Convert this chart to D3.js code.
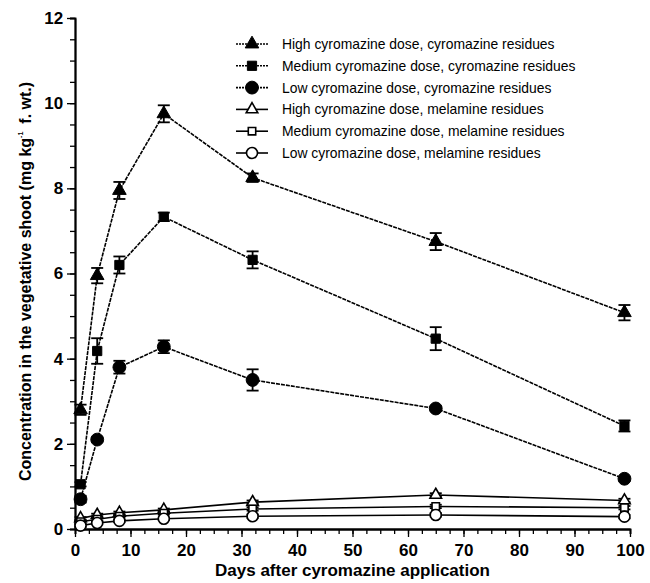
<!DOCTYPE html>
<html>
<head>
<meta charset="utf-8">
<script src="https://cdn.jsdelivr.net/npm/d3@7"></script>
<style>
  body { margin: 0; background: #fff; }
  svg { display: block; font-family: "Liberation Sans", Arial, sans-serif; }
</style>
</head>
<body>
<svg id="chart" width="650" height="583"></svg>
<script>
// ----------------------------
// Data
// ----------------------------
const days = [1, 4, 8, 16, 32, 65, 99];

const highCyro = [2.8, 5.95, 7.95, 9.75, 8.25, 6.75, 5.08];
const highCyroErr = [0.12, 0.18, 0.2, 0.2, 0.1, 0.2, 0.18];
const medCyro = [1.05, 4.18, 6.2, 7.33, 6.32, 4.47, 2.42];
const medCyroErr = [0.05, 0.3, 0.2, 0.1, 0.2, 0.27, 0.13];
const lowCyro = [0.7, 2.1, 3.8, 4.28, 3.5, 2.83, 1.18];
const lowCyroErr = [0.08, 0.05, 0.15, 0.15, 0.25, 0.05, 0.05];

const highMel = [0.25, 0.33, 0.38, 0.45, 0.63, 0.8, 0.67];
const medMel = [0.17, 0.23, 0.3, 0.37, 0.47, 0.53, 0.5];
const lowMel = [0.08, 0.14, 0.19, 0.24, 0.3, 0.33, 0.29];
const melErr = [0.03, 0.03, 0.03, 0.03, 0.04, 0.04, 0.04];

const seriesNames = [
  "High cyromazine dose, cyromazine residues",
  "Medium cyromazine dose, cyromazine residues",
  "Low cyromazine dose, cyromazine residues",
  "High cyromazine dose, melamine residues",
  "Medium cyromazine dose, melamine residues",
  "Low cyromazine dose, melamine residues"
];

const series = [
  { name: seriesNames[0], vals: highCyro, err: highCyroErr, shape: "triangle", filled: true, dotted: true },
  { name: seriesNames[1], vals: medCyro, err: medCyroErr, shape: "square", filled: true, dotted: true },
  { name: seriesNames[2], vals: lowCyro, err: lowCyroErr, shape: "circle", filled: true, dotted: true },
  { name: seriesNames[3], vals: highMel, err: melErr, shape: "triangle", filled: false, dotted: false },
  { name: seriesNames[4], vals: medMel, err: melErr, shape: "square", filled: false, dotted: false },
  { name: seriesNames[5], vals: lowMel, err: melErr, shape: "circle", filled: false, dotted: false }
];

const xTicks = [0, 10, 20, 30, 40, 50, 60, 70, 80, 90, 100];
const yTicks = [0, 2, 4, 6, 8, 10, 12];

// ----------------------------
// Layout
// ----------------------------
const svg = d3.select("#chart");
const margin = { left: 75, right: 20, top: 18, bottom: 54 };
const W = 650, H = 583;

const x = d3.scaleLinear().domain([0, 100]).range([margin.left, W - margin.right]);
const y = d3.scaleLinear().domain([0, 12]).range([H - margin.bottom, margin.top]);

// ----------------------------
// Axes
// ----------------------------
const xAxis = svg.append("g")
  .attr("transform", `translate(0,${y(0)})`)
  .call(d3.axisBottom(x).tickValues(xTicks).tickSize(8).tickSizeOuter(0));
xAxis.append("g")
  .call(d3.axisBottom(x).tickValues(d3.range(0, 100.1, 2.5)).tickSize(5).tickFormat(""));

const yAxis = svg.append("g")
  .attr("transform", `translate(${x(0)},0)`)
  .call(d3.axisLeft(y).tickValues(yTicks).tickSize(8).tickSizeOuter(0));
yAxis.append("g")
  .call(d3.axisLeft(y).tickValues(d3.range(0, 12.01, 0.5)).tickSize(5).tickFormat(""));

svg.selectAll(".domain").attr("stroke", "#000").attr("stroke-width", 1.8);
svg.selectAll(".tick line").attr("stroke", "#000").attr("stroke-width", 1.3);
xAxis.selectAll("text").attr("font-size", 17).attr("font-weight", "bold").attr("fill", "#000").attr("dy", "0.95em");
yAxis.selectAll("text").attr("font-size", 17).attr("font-weight", "bold").attr("fill", "#000").attr("dx", "-0.05em");

// axis titles
svg.append("text")
  .attr("x", (x(0) + x(100)) / 2)
  .attr("y", 576)
  .attr("text-anchor", "middle")
  .attr("font-size", 17)
  .attr("font-weight", "bold")
  .text("Days after cyromazine application");

const yt = svg.append("text")
  .attr("transform", `translate(31,${(y(0) + y(12)) / 2 + 8}) rotate(-90)`)
  .attr("text-anchor", "middle")
  .attr("font-size", 16)
  .attr("font-weight", "bold");
yt.append("tspan").text("Concentration in the vegetative shoot (mg kg");
yt.append("tspan").attr("font-size", 7).attr("dy", -8).text("-1");
yt.append("tspan").attr("dy", 8).text("\u2002f. wt.)");

// ----------------------------
// Marks
// ----------------------------
function symbolPath(shape, filled) {
  if (shape === "triangle") return d3.symbol().type(d3.symbolTriangle).size(filled ? 80 : 58)();
  if (shape === "square") return d3.symbol().type(d3.symbolSquare).size(filled ? 85 : 55)();
  return d3.symbol().type(d3.symbolCircle).size(filled ? 130 : 95)();
}

const line = d3.line().x((d, i) => x(days[i])).y(d => y(d));

series.forEach(s => {
  svg.append("path")
    .datum(s.vals)
    .attr("fill", "none")
    .attr("stroke", "#000")
    .attr("stroke-width", 1.6)
    .attr("stroke-dasharray", s.dotted ? "4,1" : null)
    .attr("d", line);
});

series.forEach(s => {
  const g = svg.append("g");
  s.vals.forEach((v, i) => {
    const e = s.err[i];
    const cx = x(days[i]);
    g.append("line").attr("x1", cx).attr("x2", cx).attr("y1", y(v - e)).attr("y2", y(v + e))
      .attr("stroke", "#000").attr("stroke-width", 1.8);
    [v - e, v + e].forEach(t => {
      g.append("line").attr("x1", cx - 6).attr("x2", cx + 6).attr("y1", y(t)).attr("y2", y(t))
        .attr("stroke", "#000").attr("stroke-width", 1.8);
    });
  });
});

series.forEach(s => {
  svg.append("g").selectAll("path")
    .data(s.vals)
    .join("path")
    .attr("transform", (d, i) => `translate(${x(days[i])},${y(d)})`)
    .attr("d", symbolPath(s.shape, s.filled))
    .attr("fill", s.filled ? "#000" : "#fff")
    .attr("stroke", "#000")
    .attr("stroke-width", s.filled ? 1 : 1.6);
});

// ----------------------------
// Legend
// ----------------------------
const legend = svg.append("g");
series.forEach((s, i) => {
  const ly = 44 + i * 21.8;
  legend.append("line")
    .attr("x1", 236).attr("x2", 268).attr("y1", ly).attr("y2", ly)
    .attr("stroke", "#000").attr("stroke-width", 1.6)
    .attr("stroke-dasharray", s.dotted ? "2,1" : null);
  legend.append("path")
    .attr("transform", `translate(252,${ly})`)
    .attr("d", symbolPath(s.shape, s.filled))
    .attr("fill", s.filled ? "#000" : "#fff")
    .attr("stroke", "#000")
    .attr("stroke-width", s.filled ? 1 : 1.6);
  legend.append("text")
    .attr("x", 282).attr("y", ly + 5)
    .attr("font-size", 13.9)
    .text(s.name);
});
</script>
</body>
</html>
